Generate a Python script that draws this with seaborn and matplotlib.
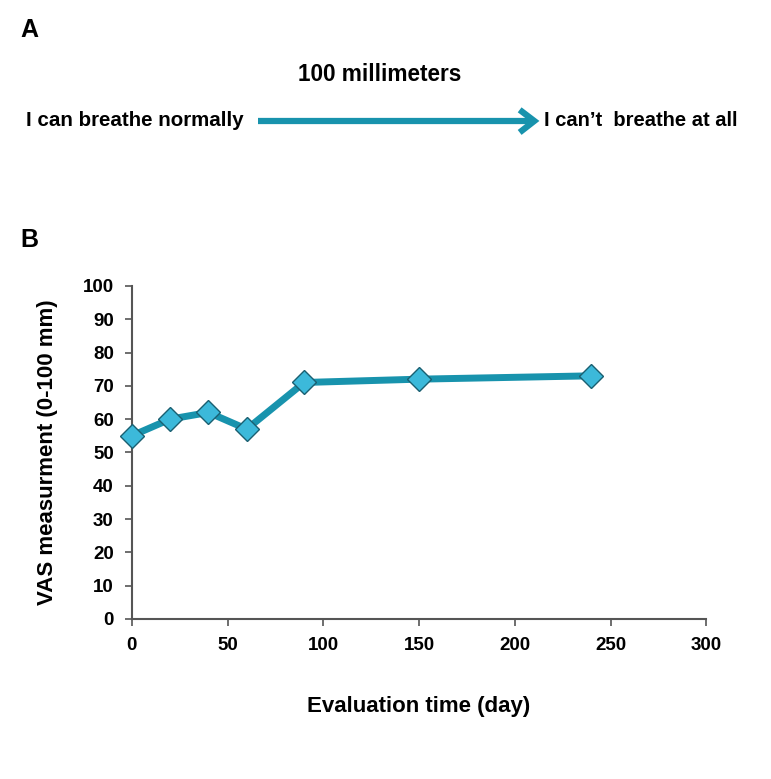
import matplotlib
matplotlib.use('Agg')
import matplotlib.pyplot as plt
import seaborn as sns
import pandas as pd

# data
days = [0, 20, 40, 60, 90, 150, 240]
vas_mm = [55, 60, 62, 57, 71, 72, 73]
x_ticks = [0, 50, 100, 150, 200, 250, 300]
y_ticks = [0, 10, 20, 30, 40, 50, 60, 70, 80, 90, 100]

sns.set_theme(style='white')
plt.rcParams['font.family'] = ['Liberation Sans', 'DejaVu Sans']
plt.rcParams['text.color'] = 'black'

line_color = '#1893ad'
marker_color = '#3cb9da'

df = pd.DataFrame({'day': days, 'vas': vas_mm})

fig = plt.figure(figsize=(7.71, 7.79), dpi=100)

# overlay axes in figure coordinates for panel A
ax_a = fig.add_axes([0, 0, 1, 1], facecolor='none')
ax_a.set_axis_off()
ax_a.set_xlim(0, 1)
ax_a.set_ylim(0, 1)

ax = fig.add_axes([0.171, 0.2054, 0.745, 0.4276])

sns.lineplot(data=df, x='day', y='vas', ax=ax, color=line_color, linewidth=5,
             marker='D', markersize=12, markerfacecolor=marker_color,
             markeredgecolor='#1a5f70', markeredgewidth=1, zorder=3, clip_on=False)

ax.set_xlim(0, 300)
ax.set_ylim(0, 100)
ax.set_xticks(x_ticks)
ax.set_yticks(y_ticks)
ax.set_xticklabels([str(t) for t in x_ticks], fontsize=13.5, fontweight='bold', color='black')
ax.set_yticklabels([str(t) for t in y_ticks], fontsize=13.5, fontweight='bold', color='black')
ax.tick_params(axis='both', direction='out', length=5, width=1.2, color='#555555',
               bottom=True, left=True, pad=8)
for side in ['top', 'right']:
    ax.spines[side].set_visible(False)
for side in ['left', 'bottom']:
    ax.spines[side].set_color('#555555')
    ax.spines[side].set_linewidth(1.5)
ax.set_xlabel('Evaluation time (day)', fontsize=16, fontweight='bold', color='black', labelpad=30)
ax.set_ylabel('VAS measurment (0-100 mm)', fontsize=16, fontweight='bold', color='black', labelpad=18)

# panel A: the visual analogue scale
ax_a.text(0.027, 0.962, 'A', fontsize=18, fontweight='bold', ha='left', va='center')
ax_a.text(0.027, 0.692, 'B', fontsize=18, fontweight='bold', ha='left', va='center')
ax_a.text(0.493, 0.905, '100 millimeters', fontsize=16.3, fontweight='bold',
          ha='center', va='center')
ax_a.text(0.316, 0.845, 'I can breathe normally', fontsize=14.8, fontweight='bold',
          ha='right', va='center')
ax_a.text(0.706, 0.845, 'I can\u2019t  breathe at all', fontsize=14.5, fontweight='bold',
          ha='left', va='center')
ax_a.plot([0.335, 0.690], [0.8447, 0.8447], color=line_color, linewidth=4.5,
          solid_capstyle='butt')
ax_a.plot([0.674, 0.693, 0.674], [0.859, 0.8447, 0.830], color=line_color,
          linewidth=4.5, solid_joinstyle='miter', solid_capstyle='butt')

fig.savefig('out.png', dpi=100)
